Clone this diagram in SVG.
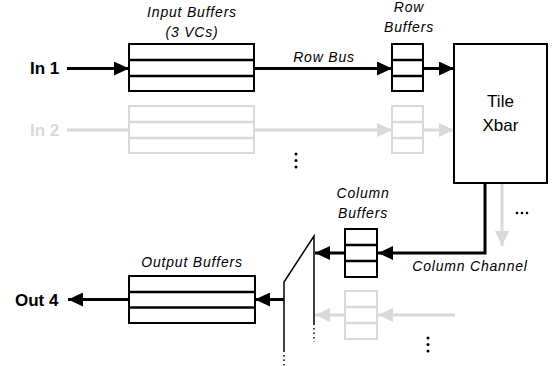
<svg xmlns="http://www.w3.org/2000/svg" width="553" height="366" viewBox="0 0 553 366">
<style>
.buf{fill:#fff;stroke:#000;stroke-width:2}
.bufg{fill:#fff;stroke:#d9d9d9;stroke-width:2}
.sep{stroke:#000;stroke-width:2.5}
.sepg{stroke:#d9d9d9;stroke-width:2.5}
.ln{fill:none;stroke:#000;stroke-width:3}
.lng{fill:none;stroke:#d9d9d9;stroke-width:3}
.mux{fill:none;stroke:#000;stroke-width:1.5}
.dot{fill:none;stroke:#000;stroke-width:1.5;stroke-dasharray:1.5 3}
.lbl{font-family:"Liberation Sans",Arial,sans-serif;font-style:italic;font-size:14px;letter-spacing:0.8px;text-anchor:middle;fill:#000}
.io{font-family:"Liberation Sans",Arial,sans-serif;font-weight:bold;font-size:17px;fill:#000}
.xb{font-family:"Liberation Sans",Arial,sans-serif;font-size:17px;text-anchor:middle;fill:#000}
</style>
<defs>
<marker id="ah" markerUnits="userSpaceOnUse" markerWidth="15" markerHeight="14" refX="15" refY="7" orient="auto"><path d="M0,0 L15,7 L0,14 z" fill="#000"/></marker>
<marker id="ahg" markerUnits="userSpaceOnUse" markerWidth="15" markerHeight="14" refX="15" refY="7" orient="auto"><path d="M0,0 L15,7 L0,14 z" fill="#d9d9d9"/></marker>
</defs>

<g id="connectors">
  <line class="ln" x1="67" y1="68.5" x2="129" y2="68.5" marker-end="url(#ah)"/>
  <line class="ln" x1="254" y1="68.5" x2="392" y2="68.5" marker-end="url(#ah)"/>
  <line class="ln" x1="423" y1="68.5" x2="454" y2="68.5" marker-end="url(#ah)"/>
  <line class="lng" x1="67" y1="130" x2="129" y2="130"/>
  <line class="lng" x1="254" y1="130" x2="392" y2="130" marker-end="url(#ahg)"/>
  <line class="lng" x1="423" y1="130" x2="454" y2="130" marker-end="url(#ahg)"/>
  <polyline class="ln" points="485,183 485,253 378,253" marker-end="url(#ah)"/>
  <line class="lng" x1="502" y1="183" x2="502" y2="246" marker-end="url(#ahg)"/>
  <line class="ln" x1="345" y1="253" x2="315" y2="253" marker-end="url(#ah)"/>
  <line class="lng" x1="455" y1="315" x2="378" y2="315" marker-end="url(#ahg)"/>
  <line class="lng" x1="345" y1="315" x2="315" y2="315" marker-end="url(#ahg)"/>
  <line class="ln" x1="284" y1="299.5" x2="255" y2="299.5" marker-end="url(#ah)"/>
  <line class="ln" x1="129" y1="299.5" x2="68" y2="299.5" marker-end="url(#ah)"/>
</g>

<g id="in1"><text class="io" x="30" y="74">In 1</text></g>
<g id="in2"><text class="io" x="30" y="136" style="fill:#d9d9d9">In 2</text></g>
<g id="out4"><text class="io" x="15" y="306">Out 4</text></g>

<g id="input-buffers">
  <text class="lbl" x="192" y="17">Input Buffers</text>
  <text class="lbl" x="192" y="37">(3 VCs)</text>
  <rect class="buf" x="129" y="44" width="125" height="47"/>
  <line class="sep" x1="129" y1="60" x2="254" y2="60"/>
  <line class="sep" x1="129" y1="76" x2="254" y2="76"/>
</g>
<g id="input-buffers-2">
  <rect class="bufg" x="129" y="106" width="125" height="47"/>
  <line class="sepg" x1="129" y1="122" x2="254" y2="122"/>
  <line class="sepg" x1="129" y1="138" x2="254" y2="138"/>
</g>
<g id="row-bus-label"><text class="lbl" x="324" y="62">Row Bus</text></g>

<g id="row-buffers">
  <text class="lbl" x="409" y="12">Row</text>
  <text class="lbl" x="409" y="32">Buffers</text>
  <rect class="buf" x="392" y="44" width="31" height="47"/>
  <line class="sep" x1="392" y1="60" x2="423" y2="60"/>
  <line class="sep" x1="392" y1="76" x2="423" y2="76"/>
</g>
<g id="row-buffers-2">
  <rect class="bufg" x="392" y="106" width="31" height="47"/>
  <line class="sepg" x1="392" y1="122" x2="423" y2="122"/>
  <line class="sepg" x1="392" y1="138" x2="423" y2="138"/>
</g>

<g id="tile-xbar">
  <rect class="buf" x="454" y="44" width="93" height="139"/>
  <text class="xb" x="500.5" y="107">Tile</text>
  <text class="xb" x="500.5" y="131">Xbar</text>
</g>

<g id="column-buffers">
  <text class="lbl" x="363" y="198">Column</text>
  <text class="lbl" x="363" y="218">Buffers</text>
  <rect class="buf" x="345" y="229" width="32" height="48"/>
  <line class="sep" x1="345" y1="245" x2="377" y2="245"/>
  <line class="sep" x1="345" y1="261" x2="377" y2="261"/>
</g>
<g id="column-buffers-2">
  <rect class="bufg" x="345" y="291" width="32" height="48"/>
  <line class="sepg" x1="345" y1="307" x2="377" y2="307"/>
  <line class="sepg" x1="345" y1="323" x2="377" y2="323"/>
</g>
<g id="column-channel-label"><text class="lbl" x="470" y="271">Column Channel</text></g>

<g id="mux">
  <polyline class="mux" points="314,325 314,236 284,282 284,352"/>
  <line class="dot" x1="314" y1="328" x2="314" y2="342"/>
  <line class="dot" x1="284" y1="355" x2="284" y2="366"/>
</g>

<g id="output-buffers">
  <text class="lbl" x="192" y="267">Output Buffers</text>
  <rect class="buf" x="129" y="276" width="126" height="47"/>
  <line class="sep" x1="129" y1="292" x2="255" y2="292"/>
  <line class="sep" x1="129" y1="307.5" x2="255" y2="307.5"/>
</g>

<g id="ellipses" fill="#000">
  <circle cx="296" cy="154" r="1.5"/><circle cx="296" cy="160.5" r="1.5"/><circle cx="296" cy="167" r="1.5"/>
  <circle cx="428" cy="338" r="1.5"/><circle cx="428" cy="344.5" r="1.5"/><circle cx="428" cy="351" r="1.5"/>
  <circle cx="517" cy="213" r="1.3"/><circle cx="522" cy="213" r="1.3"/><circle cx="527" cy="213" r="1.3"/>
</g>
</svg>
